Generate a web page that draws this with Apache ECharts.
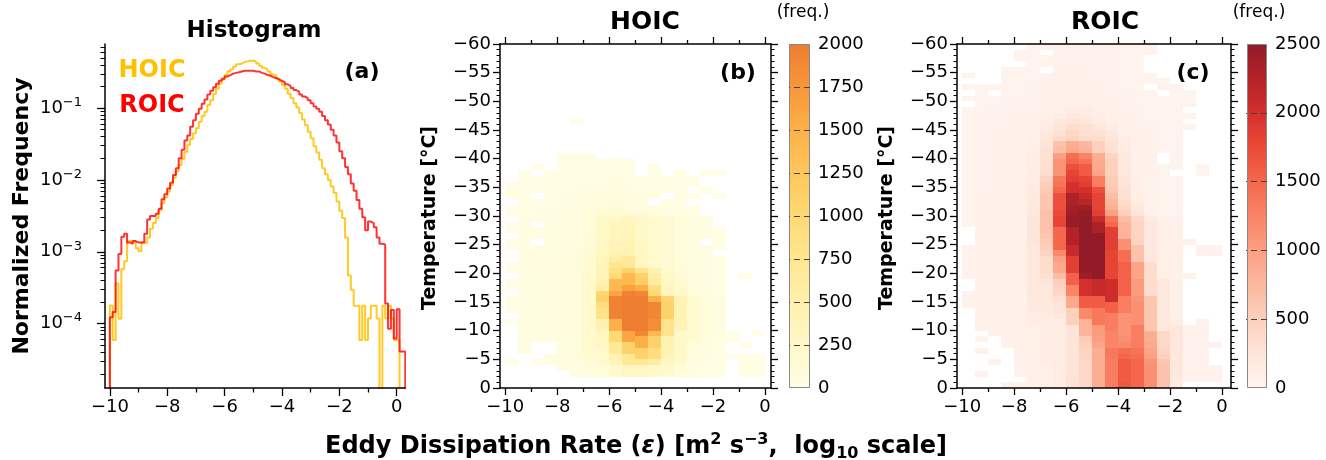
<!DOCTYPE html>
<html><head><meta charset="utf-8">
<script src="https://cdn.jsdelivr.net/npm/echarts@6/dist/echarts.min.js"></script>
<style>html,body{margin:0;padding:0;background:#fff}#c{width:1326px;height:460px}</style>
</head><body><div id="c"></div><script>
// ---------------- DATA ----------------
const histBinStart = -10, histBinWidth = 0.1;
const hoicHist = [
1.78e-4,5.9e-5,3.63e-4,1.17e-4,5.75e-4,7.41e-4,1.41e-3,1.41e-3,1.38e-3,1.12e-3,
1.02e-3,1.35e-3,1.32e-3,1.58e-3,2.09e-3,2.51e-3,2.95e-3,3.80e-3,4.79e-3,5.75e-3,
6.92e-3,8.51e-3,1.07e-2,1.32e-2,1.62e-2,1.95e-2,2.45e-2,3.09e-2,3.72e-2,4.47e-2,
5.25e-2,6.46e-2,7.76e-2,8.91e-2,0.110,0.129,0.158,0.186,0.219,0.251,
0.288,0.324,0.347,0.380,0.407,0.417,0.437,0.447,0.457,0.457,
0.447,0.417,0.389,0.363,0.347,0.324,0.295,0.282,0.257,0.234,
0.209,0.186,0.158,0.138,0.117,0.102,8.51e-2,6.92e-2,5.75e-2,4.68e-2,
3.80e-2,2.95e-2,2.40e-2,1.91e-2,1.45e-2,1.20e-2,1.00e-2,8.13e-3,6.61e-3,5.01e-3,
3.72e-3,2.95e-3,1.58e-3,4.68e-4,2.95e-4,1.77e-4,1.77e-4,5.9e-5,1.77e-4,5.9e-5,
1.18e-4,1.77e-4,1.77e-4,1.18e-4,0,1.77e-4,1.18e-4,1.77e-4,1.18e-4,5.9e-5,
5.9e-5,0,0];
const roicHist = [
1.23e-4,1.45e-4,5.50e-4,9.33e-4,1.62e-3,1.78e-3,1.35e-3,1.29e-3,1.41e-3,1.35e-3,
1.35e-3,1.35e-3,1.78e-3,2.82e-3,3.16e-3,3.16e-3,3.39e-3,3.98e-3,5.37e-3,6.31e-3,
7.59e-3,9.12e-3,1.17e-2,1.45e-2,2.00e-2,2.63e-2,3.55e-2,4.17e-2,5.50e-2,6.76e-2,
8.32e-2,9.77e-2,0.115,0.132,0.155,0.174,0.195,0.219,0.240,0.257,
0.275,0.288,0.302,0.309,0.316,0.324,0.331,0.331,0.331,0.331,
0.324,0.324,0.309,0.302,0.288,0.282,0.269,0.263,0.251,0.240,
0.229,0.214,0.204,0.191,0.178,0.170,0.155,0.145,0.138,0.129,
0.117,0.105,9.77e-2,8.91e-2,7.76e-2,6.76e-2,5.89e-2,5.01e-2,4.17e-2,3.31e-2,
2.51e-2,2.00e-2,1.51e-2,1.20e-2,8.91e-3,7.08e-3,5.25e-3,3.98e-3,3.02e-3,2.00e-3,
2.63e-3,2.51e-3,2.19e-3,1.58e-3,1.29e-3,1.26e-3,1.91e-4,8.5e-5,1.55e-4,6.2e-5,
1.58e-4,4.1e-5,4.1e-5];

// 2-D histograms: rows from T=-60 (top) to T=0 (bottom), 1 degC per row;
// columns: log10(eps) bins of 0.5 from -10 to 0
const cellXStart = -10, cellXWidth = 0.5, cellTStart = -60, cellTHeight = 1;
const hoicCounts = [
[0,0,0,0,0,0,0,0,0,0,0,0,0,0,0,0,0,0,0,0],
[0,0,0,0,0,0,0,0,0,0,0,0,0,0,0,0,0,0,0,0],
[0,0,0,0,0,0,0,0,0,0,0,0,0,0,0,0,0,0,0,0],
[0,0,0,0,0,0,0,0,0,0,0,0,0,0,0,0,0,0,0,0],
[0,0,0,0,0,0,0,0,0,0,0,0,0,0,0,0,0,0,0,0],
[0,0,0,0,0,0,0,0,0,0,0,0,0,0,0,0,0,0,0,0],
[0,0,0,0,0,0,0,0,0,0,0,0,0,0,0,0,0,0,0,0],
[0,0,0,0,0,0,0,0,0,0,0,0,0,0,0,0,0,0,0,0],
[0,0,0,0,0,0,0,0,0,0,0,0,0,0,0,0,0,0,0,0],
[0,0,0,0,0,0,0,0,0,0,0,0,0,0,0,0,0,0,0,0],
[0,0,0,0,0,0,0,0,0,0,0,0,0,0,0,0,0,0,0,0],
[0,0,0,0,0,0,0,0,0,0,0,0,0,0,0,0,0,0,0,0],
[0,0,0,0,0,0,0,0,0,0,0,0,0,0,0,0,0,0,0,0],
[0,0,0,0,0,10,0,0,0,0,0,0,0,0,0,0,0,0,0,0],
[0,0,0,0,0,0,0,0,0,0,0,0,0,0,0,0,0,0,0,0],
[0,0,0,0,0,0,0,0,0,0,0,0,0,0,0,0,0,0,0,0],
[0,0,0,0,0,0,0,0,0,0,0,0,0,0,0,0,0,0,0,0],
[0,0,0,0,0,0,0,0,0,0,0,0,0,0,0,0,0,0,0,0],
[0,0,0,0,0,0,0,0,0,0,0,0,0,0,0,0,0,0,0,0],
[0,0,0,0,15,15,15,0,0,0,0,0,0,0,0,0,0,0,0,0],
[0,0,0,0,15,20,20,25,25,20,0,0,0,0,0,0,0,0,0,0],
[0,0,10,0,20,20,25,30,30,20,0,15,0,0,0,0,0,0,0,0],
[0,10,0,10,25,25,30,35,35,25,0,15,0,10,0,10,10,0,0,0],
[0,15,15,20,25,30,30,35,40,30,25,20,20,15,15,0,0,0,0,0],
[10,20,20,25,30,35,40,45,45,40,30,25,20,20,15,0,0,0,0,0],
[15,25,25,30,35,40,45,55,55,45,35,30,25,20,0,10,0,0,0,0],
[15,30,0,30,40,45,55,65,65,55,40,35,0,25,15,0,10,0,0,0],
[0,30,30,35,40,50,60,80,80,70,50,0,30,20,0,0,0,0,0,0],
[20,35,35,40,45,55,70,100,110,90,60,45,30,25,15,0,0,0,0,0],
[20,35,40,45,50,60,80,150,180,160,120,80,50,30,20,0,0,0,0,0],
[0,40,40,45,55,65,100,250,250,300,250,200,150,100,60,40,0,0,0,0],
[20,40,0,45,55,65,100,250,330,350,250,200,150,100,60,40,0,0,0,0],
[20,40,45,50,55,70,100,260,350,380,260,200,150,100,60,40,30,0,0,0],
[0,40,45,50,60,70,110,260,350,400,260,200,150,100,60,40,30,0,0,0],
[20,45,0,50,60,70,120,280,360,400,280,200,150,100,60,0,30,0,0,0],
[20,45,45,50,60,75,130,300,380,420,280,200,150,100,60,40,30,0,0,0],
[0,45,45,55,60,75,150,320,450,450,300,200,150,100,60,40,0,0,0,0],
[0,45,50,55,65,80,170,350,550,700,300,220,150,100,60,40,30,0,0,0],
[20,45,50,55,65,80,180,380,750,700,300,220,160,100,60,40,30,0,0,0],
[20,45,50,55,65,85,200,400,850,1100,800,450,200,110,60,40,30,0,0,0],
[0,45,50,60,70,85,200,420,1000,1400,1100,550,250,120,60,40,30,0,20,0],
[20,45,50,60,70,90,210,450,1400,1400,1150,600,300,150,70,45,30,0,0,0],
[20,45,50,60,70,90,210,550,1400,1650,1500,900,300,200,80,50,30,0,0,0],
[0,45,50,60,70,90,220,1050,1600,1950,1900,1000,350,250,100,60,35,0,0,0],
[20,45,50,60,70,90,220,1100,1950,2000,2000,1500,1050,450,200,100,40,0,0,0],
[20,45,50,60,70,90,220,900,1950,2000,2000,1900,1100,450,200,100,40,0,0,0],
[20,45,50,60,70,90,220,800,1950,2000,2000,1900,1100,450,200,100,40,0,0,0],
[0,45,50,60,70,90,220,800,1950,2000,2000,1900,1100,450,200,100,40,0,0,0],
[20,45,50,60,70,90,210,450,1500,2000,2000,1850,800,450,200,100,40,0,0,0],
[0,45,50,60,70,90,200,450,1500,2000,2000,1850,800,400,200,100,40,0,0,0],
[0,40,45,55,65,85,200,300,1000,1600,1900,1400,800,250,200,100,40,20,0,20],
[0,40,45,55,65,85,200,300,1000,1600,1500,1100,450,250,150,80,30,20,0,0],
[0,40,0,0,60,80,200,300,700,1100,1500,1100,450,250,100,60,30,0,20,0],
[0,40,0,0,55,80,200,200,700,1100,1100,900,450,250,100,60,30,0,0,0],
[0,0,0,40,50,75,150,200,400,700,1100,900,400,250,80,50,30,20,20,20],
[20,0,20,40,50,70,120,200,400,700,700,600,300,200,60,40,30,0,20,20],
[0,0,0,0,40,60,80,100,200,300,300,250,200,100,50,35,25,0,20,20],
[0,0,0,0,0,50,60,100,200,300,300,250,200,100,50,35,25,0,20,20],
[0,0,0,0,0,0,0,0,0,0,0,0,0,0,0,0,0,0,0,0],
[0,0,0,0,0,0,0,0,0,0,0,0,0,0,0,0,0,0,0,0]];
const roicCounts = [
[0,0,0,0,0,30,30,40,40,40,40,40,35,30,30,0,0,0,0,0],
[0,0,0,0,30,30,0,40,45,45,40,40,35,30,30,0,0,0,0,0],
[0,0,0,0,30,30,35,40,45,45,40,40,35,30,0,0,0,0,0,0],
[0,0,0,0,0,30,35,45,50,50,45,40,35,30,0,0,0,0,0,0],
[0,0,0,30,30,35,0,45,50,50,45,40,35,30,0,0,0,0,0,0],
[30,0,0,30,30,35,40,45,50,55,45,40,35,30,30,0,0,0,0,0],
[0,0,0,30,35,35,40,50,55,55,50,40,35,30,30,30,0,0,0,0],
[30,30,30,35,35,40,40,50,55,55,50,45,35,30,0,30,30,0,0,0],
[0,30,0,35,35,40,45,50,60,60,50,45,40,35,30,0,30,30,0,0],
[30,35,35,35,40,40,45,55,60,60,55,45,40,35,30,30,30,30,0,0],
[0,35,35,40,40,45,50,60,70,70,60,50,40,35,30,30,30,30,0,0],
[35,35,40,40,45,50,80,100,120,120,90,70,50,40,35,30,30,0,0,0],
[35,40,40,45,45,60,100,150,180,170,120,80,60,45,35,30,30,30,0,0],
[35,40,40,45,50,60,120,200,250,220,150,100,70,45,35,30,30,0,0,0],
[35,40,40,45,50,70,150,250,350,300,200,150,80,50,40,30,30,30,0,0],
[35,40,45,45,55,80,180,300,400,300,300,200,100,60,40,30,30,0,0,0],
[35,40,45,50,55,90,200,350,450,350,350,250,120,60,40,30,30,0,0,0],
[35,40,45,50,60,100,250,650,850,750,500,300,150,70,40,30,30,0,0,0],
[35,40,45,50,60,110,280,700,900,800,500,300,150,70,40,30,30,0,0,0],
[35,40,45,50,60,120,300,1000,1450,1250,850,450,200,80,40,0,30,0,0,0],
[35,40,45,50,60,120,300,1100,1500,1400,900,500,200,80,40,0,30,0,0,0],
[35,40,45,50,65,130,320,1100,1700,1600,900,500,200,80,40,30,30,0,30,0],
[35,40,45,55,65,140,350,1100,1800,1600,950,500,220,90,45,30,0,0,30,0],
[35,40,45,55,70,150,450,1350,1850,1800,1300,550,250,90,45,30,30,0,0,0],
[35,40,45,55,70,160,500,1400,2000,1850,1300,550,250,100,50,30,30,0,0,0],
[35,40,50,60,75,170,550,1500,2000,2000,1700,600,300,100,50,30,30,0,0,0],
[35,40,50,60,75,180,600,1700,2300,2100,1800,700,300,100,50,35,30,0,0,0],
[35,45,50,60,80,190,600,1700,2300,2200,1800,750,350,150,50,35,30,0,0,0],
[35,45,50,60,80,200,600,1700,2350,2400,1800,850,400,200,55,35,30,0,0,0],
[35,45,50,65,80,220,650,1750,2400,2450,1850,1000,500,250,80,35,30,0,0,0],
[35,45,50,65,80,250,650,1800,2450,2500,2100,1400,700,400,150,80,60,0,0,0],
[35,50,50,65,80,250,650,1800,2450,2500,2300,1500,800,450,200,100,80,0,0,0],
[0,50,50,65,80,250,650,1500,2250,2500,2300,1850,800,450,200,100,80,0,0,0],
[0,50,55,65,85,250,600,1500,2250,2500,2500,1850,800,450,200,100,80,0,0,0],
[0,50,55,65,85,250,550,1500,2250,2500,2500,1850,1150,450,200,100,80,40,0,0],
[40,50,55,65,85,200,500,1500,2100,2500,2500,1850,1150,650,200,100,80,0,40,40],
[40,50,55,65,85,200,450,1200,2100,2500,2500,1800,1450,650,200,100,80,0,40,40],
[40,50,55,65,85,200,350,1000,1850,2500,2500,1800,1450,650,200,100,80,0,0,0],
[40,50,55,65,85,200,350,900,1850,2500,2500,1800,1550,950,350,100,80,0,0,0],
[40,50,55,60,80,200,350,900,1850,2500,2500,1800,1550,950,350,100,80,0,0,0],
[40,50,55,60,80,200,300,700,1550,2400,2500,1800,1550,950,350,100,80,40,0,0],
[0,50,55,60,80,200,250,500,1550,2000,2100,2050,1550,1050,350,200,80,0,0,0],
[0,50,55,60,80,200,200,450,1250,2000,2100,2050,1550,1050,350,200,80,0,0,0],
[40,50,55,60,80,200,200,400,1250,2000,2100,2050,1550,1050,350,200,80,0,0,0],
[40,50,55,60,80,180,200,300,900,1600,1600,2050,1300,1100,600,200,80,0,0,0],
[40,50,55,60,80,180,180,250,900,1600,1600,1550,1300,1150,600,200,80,0,0,0],
[0,50,55,60,80,180,180,250,500,1200,1350,1550,1300,1150,600,200,80,0,0,0],
[0,50,55,60,80,150,150,200,500,1200,1350,1300,1100,1150,600,200,80,0,0,0],
[0,50,55,60,70,120,130,150,500,800,1350,1300,1100,1150,600,200,120,0,40,0],
[0,50,50,60,70,100,120,150,250,800,1050,1300,1100,1300,600,200,200,40,40,0],
[0,0,50,55,65,100,120,150,250,800,1050,1250,1100,1300,850,400,200,40,40,0],
[0,40,0,55,65,100,120,150,250,550,1000,1250,1150,1300,850,400,200,40,40,0],
[0,0,0,50,60,100,120,150,250,500,950,1250,1200,1300,900,400,200,40,40,40],
[0,40,0,0,60,100,120,150,250,450,850,1350,1450,1400,950,450,200,40,40,0],
[0,0,0,0,60,100,120,150,250,450,850,1350,1500,1450,1000,500,200,40,40,0],
[0,0,40,0,60,100,120,150,250,400,850,1300,1600,1500,1100,600,200,40,40,0],
[0,0,0,0,40,80,100,150,250,400,850,1300,1600,1500,1150,650,200,40,40,40],
[0,40,0,0,40,80,100,150,250,400,850,1300,1600,1500,1150,650,200,40,40,40],
[0,0,0,0,0,60,100,150,300,400,850,1300,1600,1500,1150,650,150,40,40,40],
[0,0,0,40,40,60,100,150,300,400,850,1300,1650,1500,1150,650,150,0,0,0]];

const xTickValues = [-10,-8,-6,-4,-2,0];
const xMinorTickValues = [-9,-7,-5,-3,-1];
const logTickValues = [1e-4,1e-3,1e-2,1e-1];
const hoicBarTicks = [250,500,750,1000,1250,1500,1750];
const roicBarTicks = [500,1000,1500,2000];
const hoicColors = ['#fffee6','#fff8c8','#fff0ac','#ffe690','#fed974','#fec75c','#fdb048','#f7973a','#ed7d31'];
const roicColors = ['#fff5f0','#fee5d9','#fdd0bc','#fcb89f','#fc9f82','#fa8466','#f5674c','#ea4a38','#d42f2c','#b42228','#911b26'];
const hoicMax = 2000, roicMax = 2500;

// ---------------- CHART ----------------
const FONT = 'DejaVu Sans';
const minus = v => String(v).replace('-', '\u2212');
const yMinA = 1.27e-5, yMaxA = 0.78;
const logMinor = [];
for (let e = -5; e <= -1; e++) for (let m = 2; m <= 9; m++) { const v = m * Math.pow(10, e); if (v > yMinA && v < yMaxA) logMinor.push(v); }

function histLine(vals) {
  const FLOOR = 1e-9;
  const pts = [[histBinStart, FLOOR]];
  vals.forEach((v, k) => pts.push([+(histBinStart + k * histBinWidth).toFixed(2), v > 0 ? v : FLOOR]));
  const end = +(histBinStart + vals.length * histBinWidth).toFixed(2);
  const last = vals[vals.length - 1];
  pts.push([end, last > 0 ? last : FLOOR]);
  pts.push([end, FLOOR]);
  return pts;
}
function cellData(rows) {
  const out = [];
  rows.forEach((row, i) => row.forEach((v, c) => {
    if (v > 0) out.push([cellXStart + c * cellXWidth, cellTStart + i * cellTHeight, v]);
  }));
  return out;
}
function renderCell(params, api) {
  const x0 = api.value(0), t0 = api.value(1);
  const a = api.coord([x0, t0]), b = api.coord([x0 + cellXWidth, t0 + cellTHeight]);
  const x = Math.round(Math.min(a[0], b[0])), y = Math.round(Math.min(a[1], b[1]));
  const w = Math.round(Math.max(a[0], b[0])) - x, h = Math.round(Math.max(a[1], b[1])) - y;
  return { type: 'rect', shape: { x: x, y: y, width: w, height: h }, style: { fill: api.visual('color') } };
}
function grad(colors) {
  return { type: 'linear', x: 0, y: 1, x2: 0, y2: 0,
    colorStops: colors.map((c, i) => ({ offset: i / (colors.length - 1), color: c })) };
}
const LINE = { color: '#000', width: 1.5 };
const TICK = { color: '#000', width: 1.3 };
const LBL = { fontSize: 18, color: '#000', fontFamily: FONT };

function xAxes(grid, min, max, top, majorLen, minorLen) {
  const base = { type: 'value', gridIndex: grid, min: min, max: max, splitLine: { show: false }, z: 5 };
  const arr = [
    Object.assign({}, base, { position: 'bottom', axisLine: { show: true, onZero: false, lineStyle: LINE },
      axisTick: { show: true, customValues: xTickValues, length: majorLen, lineStyle: TICK },
      axisLabel: Object.assign({ show: true, customValues: xTickValues, formatter: minus, margin: 10 }, LBL) }),
    Object.assign({}, base, { position: 'bottom', axisLine: { show: false, onZero: false },
      axisTick: { show: true, customValues: xMinorTickValues, length: minorLen, lineStyle: TICK }, axisLabel: { show: false } })
  ];
  if (top) {
    arr.push(Object.assign({}, base, { position: 'top', axisLine: { show: true, onZero: false, lineStyle: LINE },
      axisTick: { show: true, customValues: xTickValues, length: majorLen, lineStyle: TICK }, axisLabel: { show: false } }));
    arr.push(Object.assign({}, base, { position: 'top', axisLine: { show: false, onZero: false },
      axisTick: { show: true, customValues: xMinorTickValues, length: minorLen, lineStyle: TICK }, axisLabel: { show: false } }));
  }
  return arr;
}
function tAxes(grid) {
  const base = { type: 'value', gridIndex: grid, min: -60, max: 0, interval: 5, inverse: true, splitLine: { show: false }, z: 5,
    minorTick: { show: true, splitNumber: 5, length: 3.5, lineStyle: { color: '#000', width: 1 } },
    axisLine: { show: true, onZero: false, lineStyle: LINE }, axisTick: { show: true, length: 7, lineStyle: TICK } };
  return [
    Object.assign({}, base, { position: 'left', axisLabel: Object.assign({ show: true, formatter: minus, margin: 9 }, LBL) }),
    Object.assign({}, base, { position: 'right', axisLabel: { show: false } })
  ];
}
function cbAxis(grid, max, step, tickVals) {
  return { type: 'value', gridIndex: grid, position: 'right', min: 0, max: max, interval: step, z: 5,
    splitLine: { show: false }, axisLine: { show: false, onZero: false },
    axisTick: { show: true, inside: true, length: 21, customValues: tickVals, lineStyle: { color: '#444', width: 1, type: [6, 4] } },
    axisLabel: Object.assign({ show: true, margin: 8, formatter: v => String(v) }, LBL) };
}

const xAxis = [].concat(
  xAxes(0, -10.17, 0.29, false, 8, 4.5),      // 0,1
  xAxes(1, -10.2, 0.23, true, 7, 4),          // 2..5
  xAxes(2, -10.2, 0.35, true, 7, 4),          // 6..9
  [{ type: 'category', gridIndex: 3, data: [''], show: false },   // 10
   { type: 'category', gridIndex: 4, data: [''], show: false }]   // 11
);
const yAxis = [].concat(
  [{ type: 'log', gridIndex: 0, min: yMinA, max: yMaxA, position: 'left', splitLine: { show: false }, z: 5,
     axisLine: { show: true, onZero: false, lineStyle: LINE },
     axisTick: { show: true, customValues: logTickValues, length: 8, lineStyle: TICK },
     axisLabel: { show: true, customValues: logTickValues, margin: 23, color: '#000',
       formatter: v => '{b|10}{s|\u2212' + Math.abs(Math.round(Math.log10(v))) + '}',
       rich: { b: { fontSize: 18, fontFamily: FONT, color: '#000', lineHeight: 24 },
               s: { fontSize: 13, fontFamily: FONT, color: '#000', verticalAlign: 'top', lineHeight: 13 } } } },
   { type: 'log', gridIndex: 0, min: yMinA, max: yMaxA, position: 'left', splitLine: { show: false }, z: 5,
     axisLine: { show: false, onZero: false },
     axisTick: { show: true, customValues: logMinor, length: 4.5, lineStyle: { color: '#000', width: 1 } },
     axisLabel: { show: false } }],
  tAxes(1),   // 2,3
  tAxes(2),   // 4,5
  [cbAxis(3, hoicMax, 250, hoicBarTicks), cbAxis(4, roicMax, 500, roicBarTicks)]  // 6,7
);

const T = (text, x, y, size, extra) => ({ type: 'text', x: x, y: y, z: 100, style: Object.assign({
  text: text, fontFamily: FONT, fontSize: size, fontWeight: 'bold', fill: '#000', align: 'center', verticalAlign: 'middle' }, extra || {}) });

const option = {
  animation: false,
  backgroundColor: '#fff',
  textStyle: { fontFamily: FONT },
  grid: [
    { left: 105, top: 44, width: 300, height: 344 },
    { left: 500, top: 44, width: 271, height: 344 },
    { left: 957, top: 44, width: 274, height: 344 },
    { left: 789, top: 44, width: 21, height: 344 },
    { left: 1247, top: 44, width: 20, height: 344 }
  ],
  xAxis: xAxis,
  yAxis: yAxis,
  visualMap: [
    { type: 'continuous', show: false, seriesIndex: 2, dimension: 2, min: 0, max: hoicMax, inRange: { color: hoicColors } },
    { type: 'continuous', show: false, seriesIndex: 3, dimension: 2, min: 0, max: roicMax, inRange: { color: roicColors } }
  ],
  series: [
    { name: 'HOIC', type: 'line', xAxisIndex: 0, yAxisIndex: 0, step: 'end', symbol: 'none', clip: true, z: 3,
      data: histLine(hoicHist), lineStyle: { color: '#FFC000', width: 2, opacity: 0.85 }, itemStyle: { color: '#FFC000' } },
    { name: 'ROIC', type: 'line', xAxisIndex: 0, yAxisIndex: 0, step: 'end', symbol: 'none', clip: true, z: 4,
      data: histLine(roicHist), lineStyle: { color: '#FF0000', width: 2, opacity: 0.8 }, itemStyle: { color: '#FF0000' } },
    { type: 'custom', xAxisIndex: 2, yAxisIndex: 2, renderItem: renderCell, encode: { x: 0, y: 1 }, data: cellData(hoicCounts), silent: true, z: 2 },
    { type: 'custom', xAxisIndex: 6, yAxisIndex: 4, renderItem: renderCell, encode: { x: 0, y: 1 }, data: cellData(roicCounts), silent: true, z: 2 },
    { type: 'bar', xAxisIndex: 10, yAxisIndex: 6, data: [hoicMax], barWidth: '100%', silent: true, z: 2,
      itemStyle: { color: grad(hoicColors), borderColor: '#888', borderWidth: 1 } },
    { type: 'bar', xAxisIndex: 11, yAxisIndex: 7, data: [roicMax], barWidth: '100%', silent: true, z: 2,
      itemStyle: { color: grad(roicColors), borderColor: '#888', borderWidth: 1 } }
  ],
  graphic: [
    T('Histogram', 254, 31, 23),
    T('HOIC', 645, 22, 25),
    T('ROIC', 1105, 22, 25),
    T('(a)', 362, 72, 22),
    T('(b)', 738, 73, 22),
    T('(c)', 1193, 73, 22),
    T('HOIC', 152, 71, 24, { fill: '#FFC000' }),
    T('ROIC', 152, 106, 24, { fill: '#FF0000' }),
    T('(freq.)', 803, 13, 17, { fontWeight: 'normal' }),
    T('(freq.)', 1259, 13, 17, { fontWeight: 'normal' }),
    Object.assign(T('Normalized Frequency', 22, 216, 22), { rotation: Math.PI / 2 }),
    Object.assign(T('Temperature [\u00b0C]', 430, 218, 19), { rotation: Math.PI / 2 }),
    Object.assign(T('Temperature [\u00b0C]', 887, 218, 19), { rotation: Math.PI / 2 }),
    { type: 'text', x: 636, y: 447, z: 100, style: {
      text: '{t|Eddy Dissipation Rate (}{e|\u03b5}{t|) [m}{p|2}{t| s}{p|\u22123}{t|,  log}{d|10}{t| scale]}',
      align: 'center', verticalAlign: 'middle', fill: '#000', fontFamily: FONT,
      rich: {
        t: { fontSize: 24, fontWeight: 'bold', fontFamily: FONT, fill: '#000', lineHeight: 30 },
        e: { fontSize: 24, fontWeight: 'bold', fontStyle: 'italic', fontFamily: FONT, fill: '#000', lineHeight: 30 },
        p: { fontSize: 16, fontWeight: 'bold', fontFamily: FONT, fill: '#000', verticalAlign: 'top', lineHeight: 16 },
        d: { fontSize: 16, fontWeight: 'bold', fontFamily: FONT, fill: '#000', verticalAlign: 'bottom', lineHeight: 16 }
      } } }
  ]
};
const chart = echarts.init(document.getElementById('c'), null, { renderer: 'canvas' });
chart.setOption(option);
</script></body></html>
